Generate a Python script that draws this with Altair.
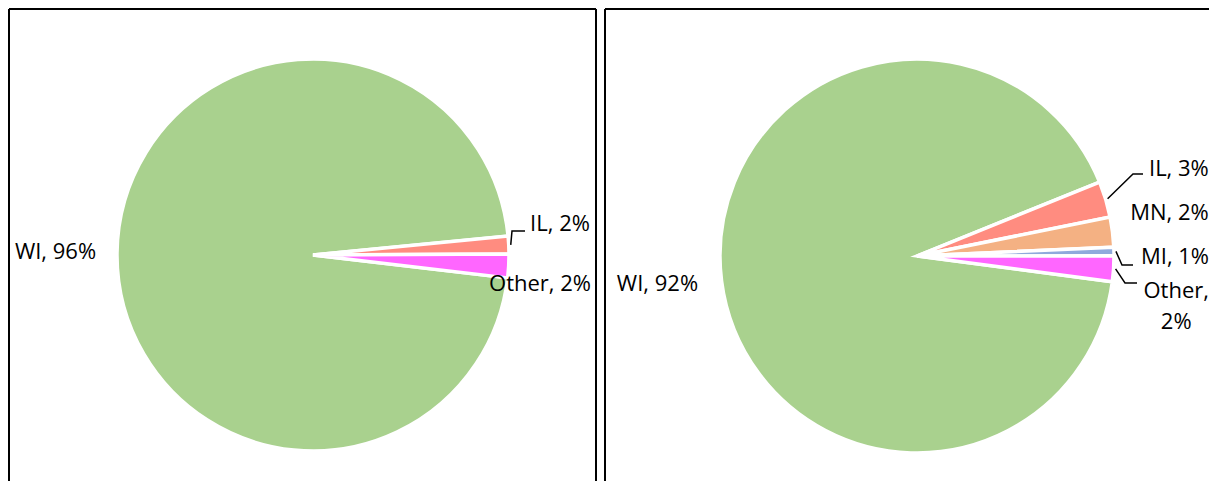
import math
import altair as alt
import pandas as pd

# ---------------- data ----------------
left_states = ["WI", "IL", "Other"]
left_values = [96.6, 1.45, 1.95]          # slice shares (%)
left_pct_labels = [96, 2, 2]              # percentages as printed

right_states = ["WI", "IL", "MN", "MI", "Other"]
right_values = [91.8, 2.95, 2.45, 0.7, 2.1]
right_pct_labels = [92, 3, 2, 1, 2]

state_colors = {
    "WI": "#A9D18E",
    "IL": "#FF8C80",
    "MN": "#F4B183",
    "MI": "#8FAADC",
    "Other": "#FF66FF",
}

# ---------------- layout (style / placement only) ----------------
W, H = 1201, 473
FONT = "Open Sans"
FS = 22

LEFT = dict(cx=305, cy=247, R=196, start=96.7,
            # label: (angle nudge from slice middle in deg, radius px)
            labels={"WI": (0.1, 257.5), "IL": (-4.29, 249), "Other": (3.97, 228.8)},
            # leader: elbow and end offsets from pie centre
            leaders={"IL": [(199, -24), (212, -24)]},
            breaks={})
RIGHT = dict(cx=909, cy=248, R=197, start=97.5,
             labels={"WI": (1.16, 261), "IL": (-1.69, 276), "MN": (-2.62, 256),
                     "MI": (1.47, 258), "Other": (3.9, 261.5)},
             leaders={"IL": [(216, -82), (226, -82)],
                      "MI": [(205, 9), (216, 9)],
                      "Other": [(208, 27), (220, 27)]},
             breaks={"Other": True})


def make_pie(states, values, pcts, lay, key):
    total = sum(values)
    s = math.radians(lay["start"])
    theta_scale = alt.Scale(domain=[0, total], range=[s, s + 2 * math.pi])
    cum = 0.0
    rows = []
    lines = []
    for i, (st, v, p) in enumerate(zip(states, values, pcts)):
        mid = cum + v / 2
        cum += v
        nudge, lr = lay["labels"][st]
        sep = "\n" if lay["breaks"].get(st) else " "
        rows.append(dict(state=st, value=v, idx=i, color=state_colors[st],
                         label=f"{st},{sep}{p}%",
                         lab_pos=mid + nudge / 360 * total, lab_r=lr))
        if st in lay["leaders"]:
            ang = lay["start"] + mid / total * 360
            a = math.radians(ang)
            r0 = lay["R"] + 2
            pts = [(r0 * math.sin(a), -r0 * math.cos(a))] + lay["leaders"][st]
            for k, (dx, dy) in enumerate(pts):
                lines.append(dict(id=f"{key}-{st}", k=k,
                                  px=lay["cx"] + dx, py=lay["cy"] + dy))
    df = pd.DataFrame(rows)

    arc = alt.Chart(df).mark_arc(radius=lay["R"], stroke="white", strokeWidth=3.5).encode(
        theta=alt.Theta("value:Q", stack=True, scale=theta_scale),
        order=alt.Order("idx:Q"),
        color=alt.Color("color:N", scale=None),
        x=alt.value(lay["cx"]),
        y=alt.value(lay["cy"]),
    )
    text = alt.Chart(df).mark_text(
        align="center", baseline="middle", font=FONT, fontSize=FS,
        lineBreak="\n", lineHeight=31, color="#000000",
    ).encode(
        theta=alt.Theta("lab_pos:Q", stack=False, scale=theta_scale),
        radius=alt.Radius("lab_r:Q", scale=None),
        text="label:N",
        x=alt.value(lay["cx"]),
        y=alt.value(lay["cy"]),
    )
    layers = [arc, text]
    if lines:
        ldf = pd.DataFrame(lines)
        leader = alt.Chart(ldf).mark_line(color="#000000", strokeWidth=1.5).encode(
            x=alt.X("px:Q", scale=None, axis=None),
            y=alt.Y("py:Q", scale=None, axis=None),
            detail="id:N",
            order="k:Q",
        )
        layers.append(leader)
    return alt.layer(*layers)


frame_df = pd.DataFrame([
    dict(x1=1, x2=588, y1=1, y2=1),
    dict(x1=1, x2=1, y1=1, y2=H),
    dict(x1=588, x2=588, y1=1, y2=H),
    dict(x1=597, x2=W, y1=1, y2=1),
    dict(x1=597, x2=597, y1=1, y2=H),
])
frame = alt.Chart(frame_df).mark_rule(color="#000000", strokeWidth=2).encode(
    x=alt.X("x1:Q", scale=None, axis=None), x2="x2:Q",
    y=alt.Y("y1:Q", scale=None, axis=None), y2="y2:Q",
)

left_pie = make_pie(left_states, left_values, left_pct_labels, LEFT, "L")
right_pie = make_pie(right_states, right_values, right_pct_labels, RIGHT, "R")

chart = alt.layer(frame, left_pie, right_pie).resolve_scale(
    theta="independent"
).properties(
    width=W, height=H, padding=0,
    autosize=alt.AutoSizeParams(type="none"),
).configure_view(stroke=None)

chart.save("out.html", embed_options={"renderer": "svg", "actions": False})
